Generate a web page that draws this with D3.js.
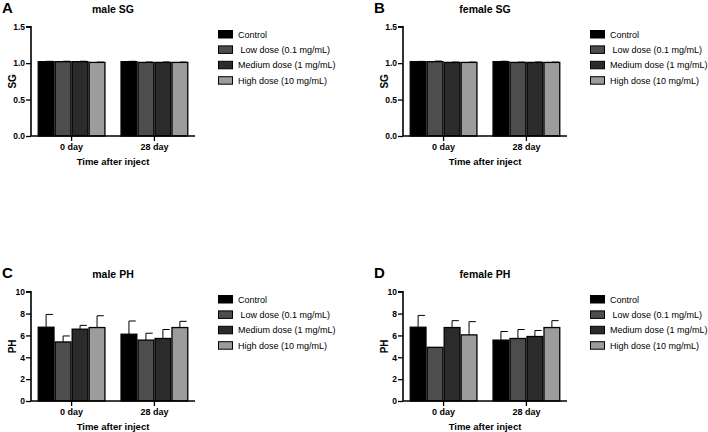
<!DOCTYPE html>
<html><head><meta charset="utf-8">
<script src="https://cdn.jsdelivr.net/npm/d3@7"></script>
<style>body{margin:0;background:#fff}svg{display:block}text{font-family:"Liberation Sans",Arial,sans-serif}</style>
</head><body>
<svg id="c" width="708" height="432"></svg>
<script>
const groups = ["0 day", "28 day"];
const seriesNames = ["Control", " Low dose (0.1 mg/mL)", "Medium dose (1 mg/mL)", "High dose (10 mg/mL)"];
const seriesColors = ["#000000", "#4d4d4d", "#2b2b2b", "#9c9c9c"];
const sgTicks = [0, 0.5, 1.0, 1.5];
const phTicks = [0, 2, 4, 6, 8, 10];

// values [group][series], upper error (mean + SD)
const maleSG      = [[1.02, 1.02, 1.02, 1.01], [1.02, 1.01, 1.01, 1.01]];
const maleSGerr   = [[0.005, 0.006, 0.006, 0.004], [0.005, 0.005, 0.005, 0.004]];
const femaleSG    = [[1.02, 1.02, 1.01, 1.01], [1.02, 1.01, 1.01, 1.01]];
const femaleSGerr = [[0.004, 0.008, 0.004, 0.004], [0.006, 0.004, 0.005, 0.004]];
const malePH      = [[6.75, 5.40, 6.57, 6.72], [6.11, 5.57, 5.72, 6.72]];
const malePHerr   = [[1.17, 0.55, 0.35, 1.08], [1.21, 0.63, 0.82, 0.57]];
const femalePH    = [[6.75, 4.91, 6.72, 6.05], [5.57, 5.72, 5.90, 6.72]];
const femalePHerr = [[1.08, 0.0, 0.63, 1.21], [0.79, 0.82, 0.55, 0.63]];

const panels = [
  {letter:"A", title:"male SG", ylab:"SG", vals:maleSG, err:maleSGerr, ticks:sgTicks, max:1.5, fmt:d3.format(".1f"), dx:0, dy:0},
  {letter:"B", title:"female SG", ylab:"SG", vals:femaleSG, err:femaleSGerr, ticks:sgTicks, max:1.5, fmt:d3.format(".1f"), dx:372, dy:0},
  {letter:"C", title:"male PH", ylab:"PH", vals:malePH, err:malePHerr, ticks:phTicks, max:10, fmt:d3.format("d"), dx:0, dy:265},
  {letter:"D", title:"female PH", ylab:"PH", vals:femalePH, err:femalePHerr, ticks:phTicks, max:10, fmt:d3.format("d"), dx:372, dy:265}
];

const svg = d3.select("#c");
const X0 = 31, X1 = 195, Y0 = 136, Y1 = 26.7;

panels.forEach(p => {
  const g = svg.append("g").attr("transform", `translate(${p.dx},${p.dy})`);
  const x = d3.scaleBand().domain(groups).range([X0, X1]).paddingInner(0.18).paddingOuter(0.08);
  const xs = d3.scaleBand().domain(d3.range(seriesNames.length)).range([0, x.bandwidth()]);
  const y = d3.scaleLinear().domain([0, p.max]).range([Y0, Y1]);

  g.append("text").attr("x", 2).attr("y", 13).attr("font-size", 15).attr("font-weight", "bold").text(p.letter);
  g.append("text").attr("x", (X0 + X1) / 2).attr("y", 13).attr("text-anchor", "middle")
    .attr("font-size", 10.5).attr("font-weight", "bold").text(p.title);

  groups.forEach((gr, gi) => {
    const gg = g.append("g").attr("transform", `translate(${x(gr)},0)`);
    p.vals[gi].forEach((v, si) => {
      const bx = xs(si), bw = xs.bandwidth();
      const top = y(v + p.err[gi][si]);
      if (p.err[gi][si] > 0) {
        gg.append("line").attr("x1", bx + bw / 2).attr("x2", bx + bw / 2)
          .attr("y1", y(v)).attr("y2", top).attr("stroke", "#000").attr("stroke-width", 1);
        gg.append("line").attr("x1", bx + bw / 2).attr("x2", bx + bw / 2 + bw * 0.4)
          .attr("y1", top).attr("y2", top).attr("stroke", "#000").attr("stroke-width", 1);
      }
      gg.append("rect").attr("x", bx + 0.6).attr("y", y(v)).attr("width", bw - 1.2).attr("height", Y0 - y(v))
        .attr("fill", seriesColors[si]).attr("stroke", "#000").attr("stroke-width", 1.3);
    });
  });

  const ya = g.append("g").attr("transform", `translate(${X0},0)`)
    .call(d3.axisLeft(y).tickValues(p.ticks).tickFormat(p.fmt).tickSize(5).tickPadding(1));
  ya.select(".domain").attr("stroke-width", 1.6).attr("d", `M-5,${Y1}H0V${Y0}`);
  ya.selectAll(".tick line").attr("stroke-width", 1.3);
  ya.selectAll("text").attr("font-size", 8.5).attr("font-weight", "bold").attr("font-family", "Liberation Sans, Arial, sans-serif");

  const xa = g.append("g").attr("transform", `translate(0,${Y0})`)
    .call(d3.axisBottom(x).tickSize(5).tickPadding(3));
  xa.select(".domain").attr("stroke-width", 1.6).attr("d", `M${X0},0H${X1}`);
  xa.selectAll(".tick line").attr("stroke-width", 1.3);
  xa.selectAll("text").attr("font-size", 9).attr("font-weight", "bold").attr("font-family", "Liberation Sans, Arial, sans-serif");

  g.append("text").attr("x", (X0 + X1) / 2).attr("y", 165).attr("text-anchor", "middle")
    .attr("font-size", 9.5).attr("font-weight", "bold").text("Time after inject");
  g.append("text").attr("transform", `translate(${X0 - 15},${(Y0 + Y1) / 2}) rotate(-90)`)
    .attr("text-anchor", "middle").attr("font-size", 10).attr("font-weight", "bold").text(p.ylab);

  const lg = g.append("g").attr("transform", "translate(218,34)");
  seriesNames.forEach((s, i) => {
    const r = lg.append("g").attr("transform", `translate(0,${i * 15.4})`);
    r.append("rect").attr("x", 0.5).attr("y", -3.5).attr("width", 14).attr("height", 7.5)
      .attr("fill", seriesColors[i]).attr("stroke", "#000").attr("stroke-width", 1);
    r.append("text").attr("x", 20).attr("y", 3.6).attr("font-size", 9).attr("xml:space", "preserve")
      .style("white-space", "pre").text(s);
  });
});
</script>
</body></html>
